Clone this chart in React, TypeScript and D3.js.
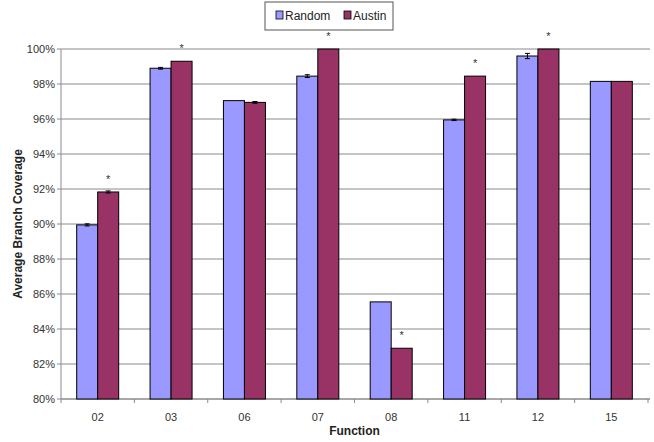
import React from "react";
import * as d3 from "d3";

const categories = ["02", "03", "06", "07", "08", "11", "12", "15"];
const randomValues = [89.95, 98.9, 97.05, 98.45, 85.55, 95.95, 99.6, 98.15];
const austinValues = [91.83, 99.3, 96.95, 100, 82.9, 98.45, 100, 98.15];
const randomErr = [0.06, 0.05, 0, 0.08, 0, 0.04, 0.15, 0];
const austinErr = [0.06, 0, 0.05, 0, 0, 0, 0, 0];
const significant = [true, true, false, true, true, true, true, false];
const yTicks = [80, 82, 84, 86, 88, 90, 92, 94, 96, 98, 100];
const seriesNames = ["Random", "Austin"];
const colors = ["#9999FF", "#993366"];

export default function App() {
  const W = 654, H = 442;
  const left = 61, right = 648, top = 49, bottom = 399;
  const x = d3.scaleBand().domain(categories).range([left, right]).paddingInner(0).paddingOuter(0);
  const y = d3.scaleLinear().domain([80, 100]).range([bottom, top]);
  const bw = 21;
  const font = "Liberation Sans, Arial, sans-serif";
  const series = [randomValues, austinValues];
  const errs = [randomErr, austinErr];
  return (
    <svg width={W} height={H} style={{ position: "absolute", left: 0, top: 0 }} fontFamily={font}>
      <rect x={0} y={0} width={W} height={H} fill="#fff" />
      {yTicks.map((t) => (
        <g key={t}>
          <line x1={left} x2={right + 2} y1={y(t)} y2={y(t)} stroke="#8a8a8a" strokeWidth={1} />
          <line x1={left - 4} x2={left} y1={y(t)} y2={y(t)} stroke="#8a8a8a" />
          <text x={left - 6} y={y(t) + 4} textAnchor="end" fontSize={11} fill="#333">{t}%</text>
        </g>
      ))}
      <line x1={left} x2={left} y1={top} y2={bottom} stroke="#8a8a8a" />
      <line x1={left} x2={right + 2} y1={bottom} y2={bottom} stroke="#8a8a8a" />
      {categories.map((c, i) => (
        <line key={"t" + c} x1={x(c)!} x2={x(c)!} y1={bottom} y2={bottom + 4} stroke="#8a8a8a" />
      ))}
      <line x1={right} x2={right} y1={bottom} y2={bottom + 4} stroke="#8a8a8a" />
      {categories.map((c, i) => {
        const cx = x(c)! + x.bandwidth() / 2;
        return (
          <g key={c}>
            {series.map((s, k) => {
              const bx = cx - bw + k * bw;
              const v = s[i];
              const e = errs[k][i];
              const ex = bx + bw / 2;
              return (
                <g key={k}>
                  <rect x={bx} y={y(v)} width={bw} height={bottom - y(v)} fill={colors[k]} stroke="#000" strokeWidth={1} />
                  {e > 0 && (
                    <g stroke="#000" strokeWidth={1}>
                      <line x1={ex} x2={ex} y1={y(v + e)} y2={y(v - e)} />
                      <line x1={ex - 2.5} x2={ex + 2.5} y1={y(v + e)} y2={y(v + e)} />
                      <line x1={ex - 2.5} x2={ex + 2.5} y1={y(v - e)} y2={y(v - e)} />
                    </g>
                  )}
                </g>
              );
            })}
            {significant[i] && (
              <text x={cx + bw / 2} y={y(austinValues[i]) - 9} textAnchor="middle" fontSize={11} fill="#333">*</text>
            )}
            <text x={cx} y={bottom + 22} textAnchor="middle" fontSize={11} fill="#333">{c}</text>
          </g>
        );
      })}
      <text x={(left + right) / 2} y={435} textAnchor="middle" fontSize={12} fontWeight="bold" fill="#222">Function</text>
      <text transform={`translate(22,${(top + bottom) / 2}) rotate(-90)`} textAnchor="middle" fontSize={12} fontWeight="bold" fill="#222">Average Branch Coverage</text>
      <g>
        <rect x={265} y={2} width={128} height={28} fill="#fff" stroke="#555" />
        {seriesNames.map((n, k) => {
          const lx = k === 0 ? 276 : 344;
          return (
            <g key={n}>
              <rect x={lx} y={11} width={7} height={8} fill={colors[k]} stroke="#000" strokeWidth={0.8} />
              <text x={lx + 9} y={20} fontSize={12} fill="#222">{n}</text>
            </g>
          );
        })}
      </g>
    </svg>
  );
}
